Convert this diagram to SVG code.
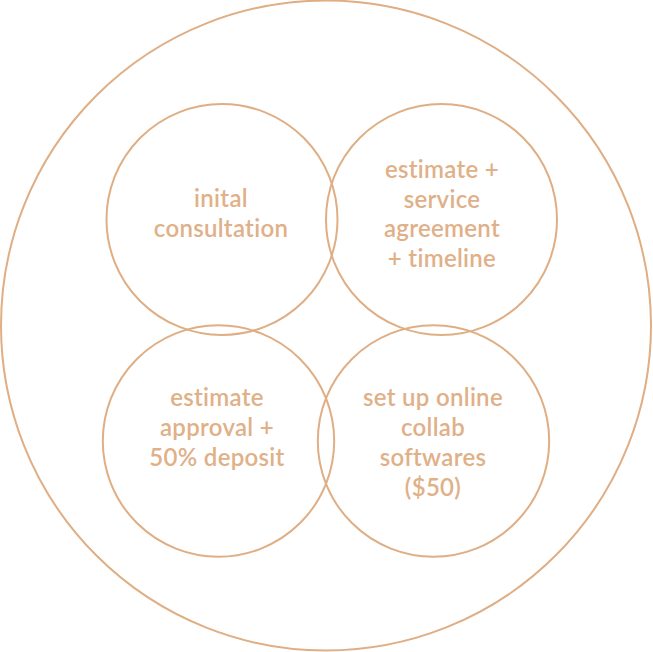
<svg xmlns="http://www.w3.org/2000/svg" width="653" height="652" viewBox="0 0 653 652">
<style>
.c{fill:none;stroke:#dfae84;stroke-width:2}
.t{font-family:Lato,"Open Sans","DejaVu Sans",sans-serif;font-size:24px;font-weight:600;fill:#e0b088;text-anchor:middle;letter-spacing:0.3px}
</style>
<rect width="653" height="652" fill="#ffffff"/>
<g id="outer"><circle class="c" cx="326" cy="325.5" r="325"/></g>
<g id="n1"><circle class="c" cx="222" cy="219.5" r="115.5"/>
<text class="t" x="221" y="207">inital</text><text class="t" x="221" y="237">consultation</text></g>
<g id="n2"><circle class="c" cx="441.5" cy="219.5" r="115.5"/>
<text class="t" x="442" y="178">estimate +</text><text class="t" x="442" y="208">service</text><text class="t" x="442" y="237">agreement</text><text class="t" x="442" y="267">+ timeline</text></g>
<g id="n3"><circle class="c" cx="218.5" cy="441" r="115.7"/>
<text class="t" x="217" y="406">estimate</text><text class="t" x="217" y="436">approval +</text><text class="t" x="217" y="466">50% deposit</text></g>
<g id="n4"><circle class="c" cx="433.5" cy="441" r="115.7"/>
<text class="t" x="433" y="406">set up online</text><text class="t" x="433" y="436">collab</text><text class="t" x="433" y="466">softwares</text><text class="t" x="433" y="496">($50)</text></g>
</svg>
